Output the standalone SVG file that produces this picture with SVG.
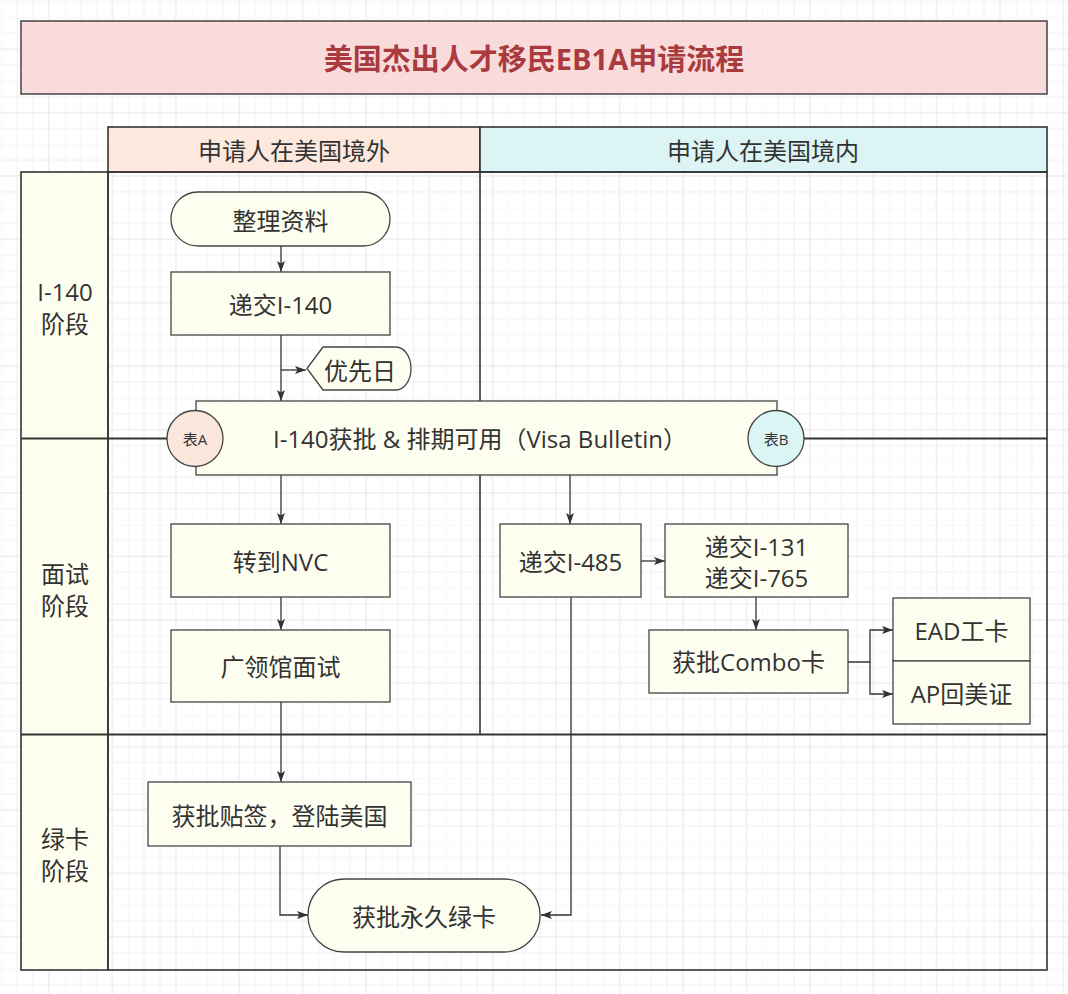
<svg xmlns="http://www.w3.org/2000/svg" width="1068" height="994" viewBox="0 0 1068 994">
<style>
text{font-family:"Open Sans","Noto Sans CJK SC",sans-serif;fill:#333;text-anchor:middle;dominant-baseline:central}
.t24{font-size:24px}
.t15{font-size:15px}
.node{fill:#fefef0;stroke:#444;stroke-width:1.3}
.lane{fill:none;stroke:#333;stroke-width:1.6}
.sep{fill:none;stroke:#333;stroke-width:2}
.edge{fill:none;stroke:#333;stroke-width:1.3}
.arr{marker-end:url(#ah)}
</style>
<defs>
<pattern id="grid" patternUnits="userSpaceOnUse" x="1.45" y="17.5" width="63.4" height="63.4">
<path d="M0 0V63.4M15.85 0V63.4M31.7 0V63.4" stroke="#f0f0f0" stroke-width="1"/>
<path d="M47.55 0V63.4" stroke="#e6e6e6" stroke-width="1"/>
<path d="M0 0H63.4M0 15.85H63.4M0 47.55H63.4" stroke="#f0f0f0" stroke-width="1"/>
<path d="M0 31.7H63.4" stroke="#e6e6e6" stroke-width="1"/>
</pattern>
<marker id="ah" viewBox="0 0 11 8" refX="11" refY="4" markerWidth="11" markerHeight="8" markerUnits="userSpaceOnUse" orient="auto">
<path d="M0 0L11 4L0 8L2.5 4Z" fill="#333"/>
</marker>
</defs>
<rect width="1068" height="994" fill="#fff"/>
<rect width="1068" height="994" fill="url(#grid)"/>

<g id="title">
<rect x="21" y="21" width="1026" height="73" fill="#fadbdc" stroke="#444" stroke-width="1.5"/>
<text x="534" y="58" style="font-size:29px;font-weight:bold;fill:#a93a3d">美国杰出人才移民EB1A申请流程</text>
</g>

<g id="lanes">
<rect x="108" y="127" width="372" height="45" fill="#fce8dd" stroke="#333" stroke-width="1.6"/>
<text class="t24" x="294" y="150">申请人在美国境外</text>
<rect x="480" y="127" width="567" height="45" fill="#dcf5f4" stroke="#333" stroke-width="1.6"/>
<text class="t24" x="763" y="150">申请人在美国境内</text>
<rect x="21" y="172" width="87" height="798" fill="#fefef0" stroke="#333" stroke-width="1.6"/>
<rect class="lane" x="108" y="172" width="939" height="798"/>
<line class="lane" x1="480" y1="172" x2="480" y2="734"/>
<line class="sep" x1="21" y1="438.5" x2="1047" y2="438.5"/>
<line class="sep" x1="21" y1="734.5" x2="1047" y2="734.5"/>
<text class="t24" x="65" y="291">I-140</text>
<text class="t24" x="65" y="323">阶段</text>
<text class="t24" x="65" y="573">面试</text>
<text class="t24" x="65" y="605">阶段</text>
<text class="t24" x="65" y="838">绿卡</text>
<text class="t24" x="65" y="870">阶段</text>
</g>

<g id="connectors">
<line class="edge arr" x1="281" y1="246" x2="281" y2="272"/>
<line class="edge arr" x1="281" y1="335" x2="281" y2="401"/>
<line class="edge arr" x1="281" y1="370" x2="306" y2="370"/>
<line class="edge arr" x1="281" y1="475" x2="281" y2="524"/>
<line class="edge arr" x1="570" y1="475" x2="570" y2="524"/>
<line class="edge arr" x1="281" y1="597" x2="281" y2="630"/>
<line class="edge arr" x1="281" y1="702" x2="281" y2="782"/>
<line class="edge arr" x1="641" y1="561" x2="665" y2="561"/>
<line class="edge arr" x1="756" y1="597" x2="756" y2="630"/>
<polyline class="edge arr" points="848,662 870,662 870,630 893,630"/>
<polyline class="edge arr" points="870,662 870,694 893,694"/>
<polyline class="edge arr" points="280,846 280,915 308,915"/>
<polyline class="edge arr" points="571,597 571,915 541,915"/>
</g>

<g id="n-organize">
<rect class="node" x="171" y="192" width="219" height="54" rx="27"/>
<text class="t24" x="280.5" y="220">整理资料</text>
</g>
<g id="n-i140">
<rect class="node" x="171" y="272" width="219" height="63"/>
<text class="t24" x="280.5" y="304">递交I-140</text>
</g>
<g id="n-priority">
<path class="node" d="M307 368.5L323 347H396A15 21.5 0 0 1 396 390H323Z"/>
<text class="t24" x="360" y="370">优先日</text>
</g>
<g id="n-approve">
<rect class="node" x="196" y="401" width="581" height="74"/>
<text class="t24" x="480" y="438">I-140获批 &amp; 排期可用（Visa Bulletin）</text>
</g>
<g id="n-tableA">
<circle cx="195" cy="438.5" r="28" fill="#fbe6dc" stroke="#444" stroke-width="1.3"/>
<text class="t15" x="195" y="439">表A</text>
</g>
<g id="n-tableB">
<circle cx="776" cy="438.5" r="28" fill="#dbf4f4" stroke="#444" stroke-width="1.3"/>
<text class="t15" x="776" y="439">表B</text>
</g>
<g id="n-nvc">
<rect class="node" x="171" y="524" width="219" height="73"/>
<text class="t24" x="280.5" y="561">转到NVC</text>
</g>
<g id="n-interview">
<rect class="node" x="171" y="630" width="219" height="72"/>
<text class="t24" x="280.5" y="666">广领馆面试</text>
</g>
<g id="n-i485">
<rect class="node" x="500" y="524" width="141" height="73"/>
<text class="t24" x="570.5" y="561">递交I-485</text>
</g>
<g id="n-i131">
<rect class="node" x="665" y="524" width="183" height="73"/>
<text class="t24" x="756.5" y="546">递交I-131</text>
<text class="t24" x="756.5" y="577">递交I-765</text>
</g>
<g id="n-combo">
<rect class="node" x="649" y="630" width="199" height="63"/>
<text class="t24" x="748.5" y="661">获批Combo卡</text>
</g>
<g id="n-ead">
<rect class="node" x="893" y="598" width="137" height="63"/>
<text class="t24" x="961.5" y="630">EAD工卡</text>
</g>
<g id="n-ap">
<rect class="node" x="893" y="661" width="137" height="63"/>
<text class="t24" x="961.5" y="693">AP回美证</text>
</g>
<g id="n-visa">
<rect class="node" x="148" y="782" width="263" height="64"/>
<text class="t24" x="279.5" y="815">获批贴签，登陆美国</text>
</g>
<g id="n-greencard">
<rect class="node" x="308" y="879" width="232" height="73" rx="36"/>
<text class="t24" x="424" y="916">获批永久绿卡</text>
</g>
</svg>
